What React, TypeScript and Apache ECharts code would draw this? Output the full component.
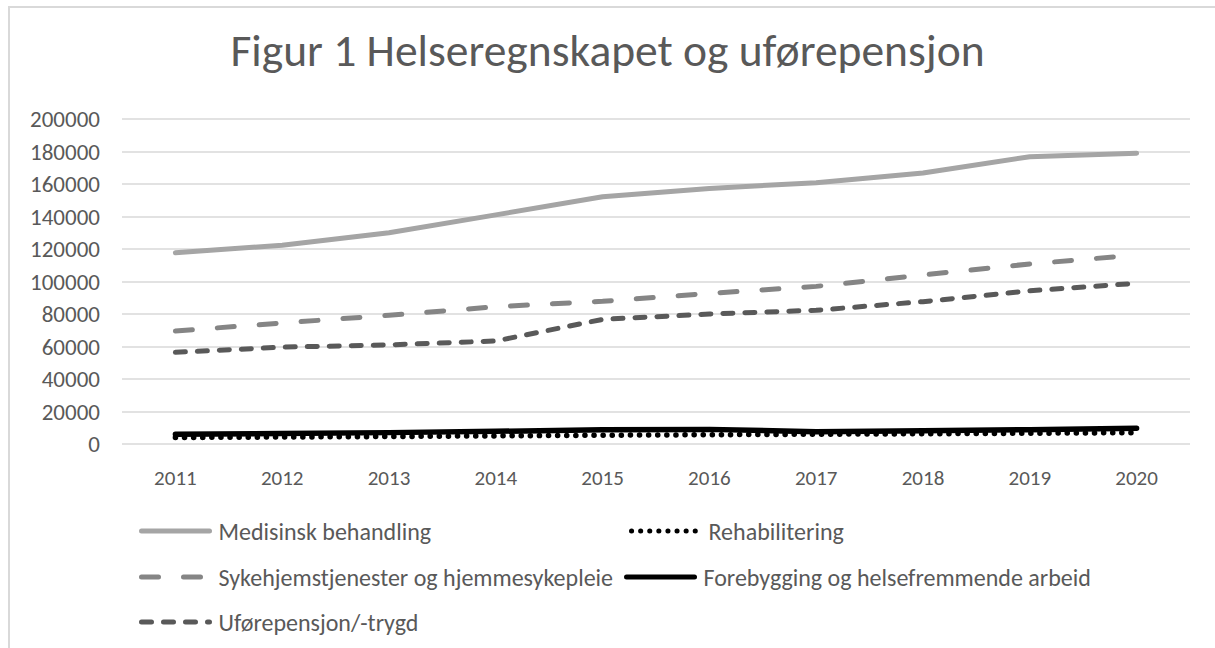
import React, { useEffect, useRef } from "react";
import * as echarts from "echarts";

const years = ["2011", "2012", "2013", "2014", "2015", "2016", "2017", "2018", "2019", "2020"];
const medisinsk = [117700, 122300, 130000, 141000, 152200, 157300, 160800, 166800, 176800, 178900];
const rehabilitering = [4000, 4300, 4600, 5000, 5400, 5700, 6000, 6300, 6600, 7000];
const sykehjem = [69500, 74500, 79200, 84500, 87800, 92700, 97000, 104000, 110800, 116300];
const forebygging = [6000, 6500, 7000, 7800, 8800, 9000, 7600, 8200, 8800, 9700];
const ufore = [56400, 59600, 61000, 63400, 76700, 80000, 82300, 87600, 94300, 98900];

const seriesNames = [
  "Medisinsk behandling",
  "Rehabilitering",
  "Sykehjemstjenester og hjemmesykepleie",
  "Forebygging og helsefremmende arbeid",
  "Uførepensjon/-trygd",
];

const FONT = "Carlito, Lato, 'Open Sans', sans-serif";
const TEXT = "#595959";

export default function App() {
  const ref = useRef<HTMLDivElement>(null);
  useEffect(() => {
    if (!ref.current) return;
    const chart = echarts.init(ref.current, undefined, { renderer: "svg" });
    const legendPos = [
      { name: seriesNames[0], left: 139, top: 519 },
      { name: seriesNames[1], left: 629, top: 519 },
      { name: seriesNames[2], left: 139, top: 565 },
      { name: seriesNames[3], left: 624, top: 565 },
      { name: seriesNames[4], left: 139, top: 610 },
    ];
    const mk = (name: string, data: number[], color: string, width: number, type: any) => ({
      name,
      type: "line",
      data,
      symbol: "none",
      smooth: false,
      lineStyle: { color, width, type, cap: "round", join: "round" },
      itemStyle: { color },
    });
    chart.setOption({
      animation: false,
      textStyle: { fontFamily: FONT },
      title: {
        text: "Figur 1 Helseregnskapet og uførepensjon",
        left: "center",
        top: 22,
        textStyle: { fontFamily: FONT, fontSize: 45.5, fontWeight: 300, color: TEXT },
      },
      graphic: [
        {
          type: "rect",
          shape: { x: 9, y: 7, width: 1300, height: 700 },
          style: { fill: "none", stroke: "#d9d9d9", lineWidth: 2 },
          silent: true,
        },
      ],
      grid: { left: 122, right: 25, top: 119, bottom: 204, containLabel: false },
      legend: legendPos.map((l) => ({
        data: [l.name],
        left: l.left,
        top: l.top,
        itemWidth: 68,
        itemHeight: 24,
        itemGap: 0,
        padding: 0,
        itemStyle: { opacity: 0 },
        lineStyle: { width: 5 },
        textStyle: { fontFamily: FONT, fontSize: 24, color: TEXT, lineHeight: 24, padding: [0, 0, 0, 4] },
      })),
      xAxis: {
        type: "category",
        data: years,
        boundaryGap: true,
        axisLine: { show: false },
        axisTick: { show: false },
        axisLabel: { color: TEXT, fontSize: 21, fontFamily: FONT, margin: 23 },
      },
      yAxis: {
        type: "value",
        min: 0,
        max: 200000,
        interval: 20000,
        axisLine: { show: false },
        axisTick: { show: false },
        axisLabel: {
          color: TEXT,
          fontSize: 23,
          fontFamily: FONT,
          margin: 22,
          formatter: (v: number) => String(v),
        },
        splitLine: { lineStyle: { color: "#d9d9d9", width: 1.5 } },
      },
      series: [
        mk(seriesNames[0], medisinsk, "#a5a5a5", 5, "solid"),
        mk(seriesNames[1], rehabilitering, "#000000", 5.5, [0.1, 9]),
        mk(seriesNames[2], sykehjem, "#858585", 5, [17, 25]),
        mk(seriesNames[3], forebygging, "#000000", 5.5, "solid"),
        mk(seriesNames[4], ufore, "#595959", 5, [10, 12]),
      ],
    });
    return () => chart.dispose();
  }, []);
  return (
    <div
      ref={ref}
      style={{ position: "fixed", left: 0, top: 0, width: 1215, height: 648, background: "#ffffff" }}
    />
  );
}
